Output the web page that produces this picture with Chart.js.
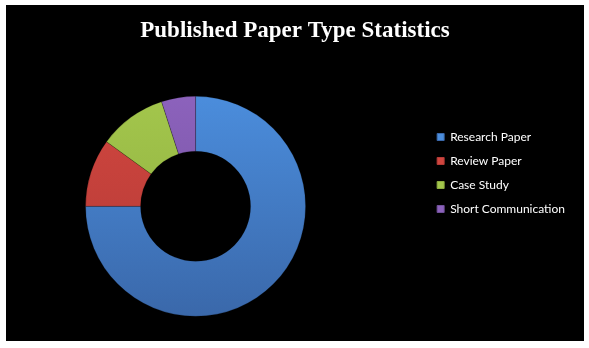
<!DOCTYPE html>
<html>
<head>
<meta charset="utf-8">
<script src="https://cdn.jsdelivr.net/npm/chart.js@4/dist/chart.umd.min.js"></script>
<style>
  html, body { margin: 0; padding: 0; background: #fff; }
  #box { position: absolute; left: 6px; top: 5px; width: 578px; height: 336px; background: #000; }
</style>
</head>
<body>
<div id="box"><canvas id="paper" width="578" height="336"></canvas></div>
<script>
'use strict';

// 데이터
const labels = ['Research Paper', 'Review Paper', 'Case Study', 'Short Communication'];
const values = [75, 10, 10, 5];
// 위쪽(밝은색) / 아래쪽(어두운색)
const lightColors = ['#4b8ddc', '#d0463f', '#a3c64c', '#8c62bc'];
const darkColors = ['#3a68aa', '#b33a36', '#8cab3e', '#70509a'];

// 위에서 아래로 그라데이션
function shade(context) {
    const chart = context.chart;
    const area = chart.chartArea;
    const i = context.dataIndex;
    if (!area || i === undefined) return lightColors[i || 0];
    const cy = (area.top + area.bottom) / 2;
    const g = chart.ctx.createLinearGradient(0, cy - 110, 0, cy + 110);
    g.addColorStop(0, lightColors[i]);
    g.addColorStop(1, darkColors[i]);
    return g;
}

const paper = document.getElementById('paper');
const paperChart = new Chart(paper, {
    type: 'doughnut',
    data: {
        labels: labels,
        datasets: [{
            data: values,
            backgroundColor: shade,
            borderColor: 'rgba(0,0,0,0.2)',
            borderWidth: 1,
            radius: 110
        }]
    },
    options: {
        responsive: false,
        animation: false,
        cutout: '50%',
        layout: { padding: { left: 9, right: 9, top: 0, bottom: 0 } },
        plugins: {
            title: {
                display: true,
                text: 'Published Paper Type Statistics',
                color: '#ffffff',
                font: { family: 'Liberation Serif', size: 23, weight: 'bold' },
                padding: { top: 12, bottom: 27 }
            },
            // 차트와 범례 사이 간격용 (빈 글자)
            subtitle: {
                display: true,
                text: ' ',
                position: 'right',
                fullSize: false,
                weight: 500,
                font: { size: 10 },
                padding: 18.5
            },
            legend: {
                position: 'right',
                align: 'start',
                maxWidth: 220,   // 기본 최대폭(차트 폭/4)에 잘리지 않게
                title: { display: true, text: ' ', font: { size: 10 }, padding: { top: 102, bottom: 0 } },
                labels: {
                    color: '#ffffff',
                    boxWidth: 7,
                    boxHeight: 7,
                    padding: 12,
                    font: { family: 'Lato', size: 12 },
                    generateLabels: function (chart) {
                        return labels.map(function (t, i) {
                            return {
                                text: t,
                                fillStyle: lightColors[i],
                                strokeStyle: darkColors[i],
                                lineWidth: 1,
                                fontColor: '#ffffff',
                                index: i
                            };
                        });
                    }
                }
            },
            tooltip: { enabled: false }
        }
    }
});
</script>
</body>
</html>
